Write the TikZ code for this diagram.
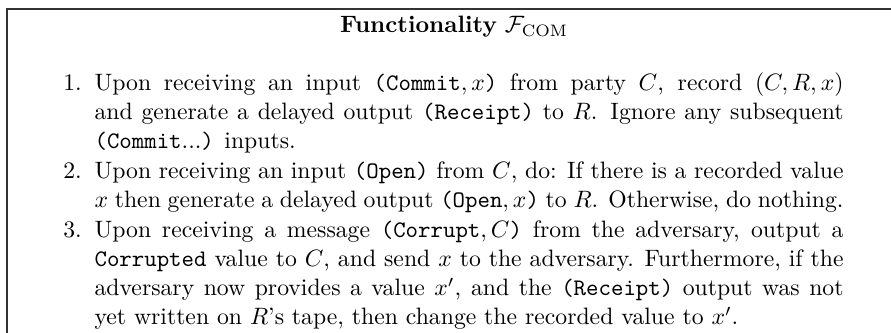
\documentclass[tikz,border=0pt]{standalone}
\usepackage{tikz}

\tikzset{
  itemtext/.style={text width=316pt, align=justify, inner sep=0pt, anchor=north west,
    font=\fontsize{10}{12.25}\selectfont},
  numlabel/.style={anchor=base east, inner sep=0pt},
  frame/.style={draw=black!80, line width=0.5pt}
}

\begin{document}
\begin{tikzpicture}[x=1pt,y=1pt]
                \clip (0,0) rectangle (375.9,-140.1);
                \draw[frame] (2.95,-3.8) rectangle (380.2,-144);
                \node[anchor=base] (title) at (191.6,-13.9) {\textbf{Functionality} $\mathcal{F}_{\mathrm{COM}}$};
                \node[itemtext] (item1) at (39.7,-29.4) {\strut Upon receiving an input \texttt{(Commit}$,x$\texttt{)} from party $C$, record $(C,R,x)$ and generate a delayed output \texttt{(Receipt)} to $R$. Ignore any subsequent \texttt{(Commit}...\texttt{)} inputs.\strut};
                \node[itemtext] (item2) at (item1.south west) {\strut Upon receiving an input \texttt{(Open)} from $C$, do: If there is a recorded value $x$ then generate a delayed output \texttt{(Open}$,x$\texttt{)} to $R$. Otherwise, do nothing.\strut};
                \node[itemtext] (item3) at (item2.south west) {\strut Upon receiving a message \texttt{(Corrupt}$,C$\texttt{)} from the adversary, output a \texttt{Corrupted} value to $C$, and send $x$ to the adversary. Furthermore, if the adversary now provides a value $x'$, and the \texttt{(Receipt)} output was not yet written on $R$'s tape, then change the recorded value to $x'$.\strut};
                \node[numlabel] (num1) at ([xshift=-5pt,yshift=-8.575pt]item1.north west) {1.};
                \node[numlabel] (num2) at ([xshift=-5pt,yshift=-8.575pt]item2.north west) {2.};
                \node[numlabel] (num3) at ([xshift=-5pt,yshift=-8.575pt]item3.north west) {3.};
\end{tikzpicture}
\end{document}
